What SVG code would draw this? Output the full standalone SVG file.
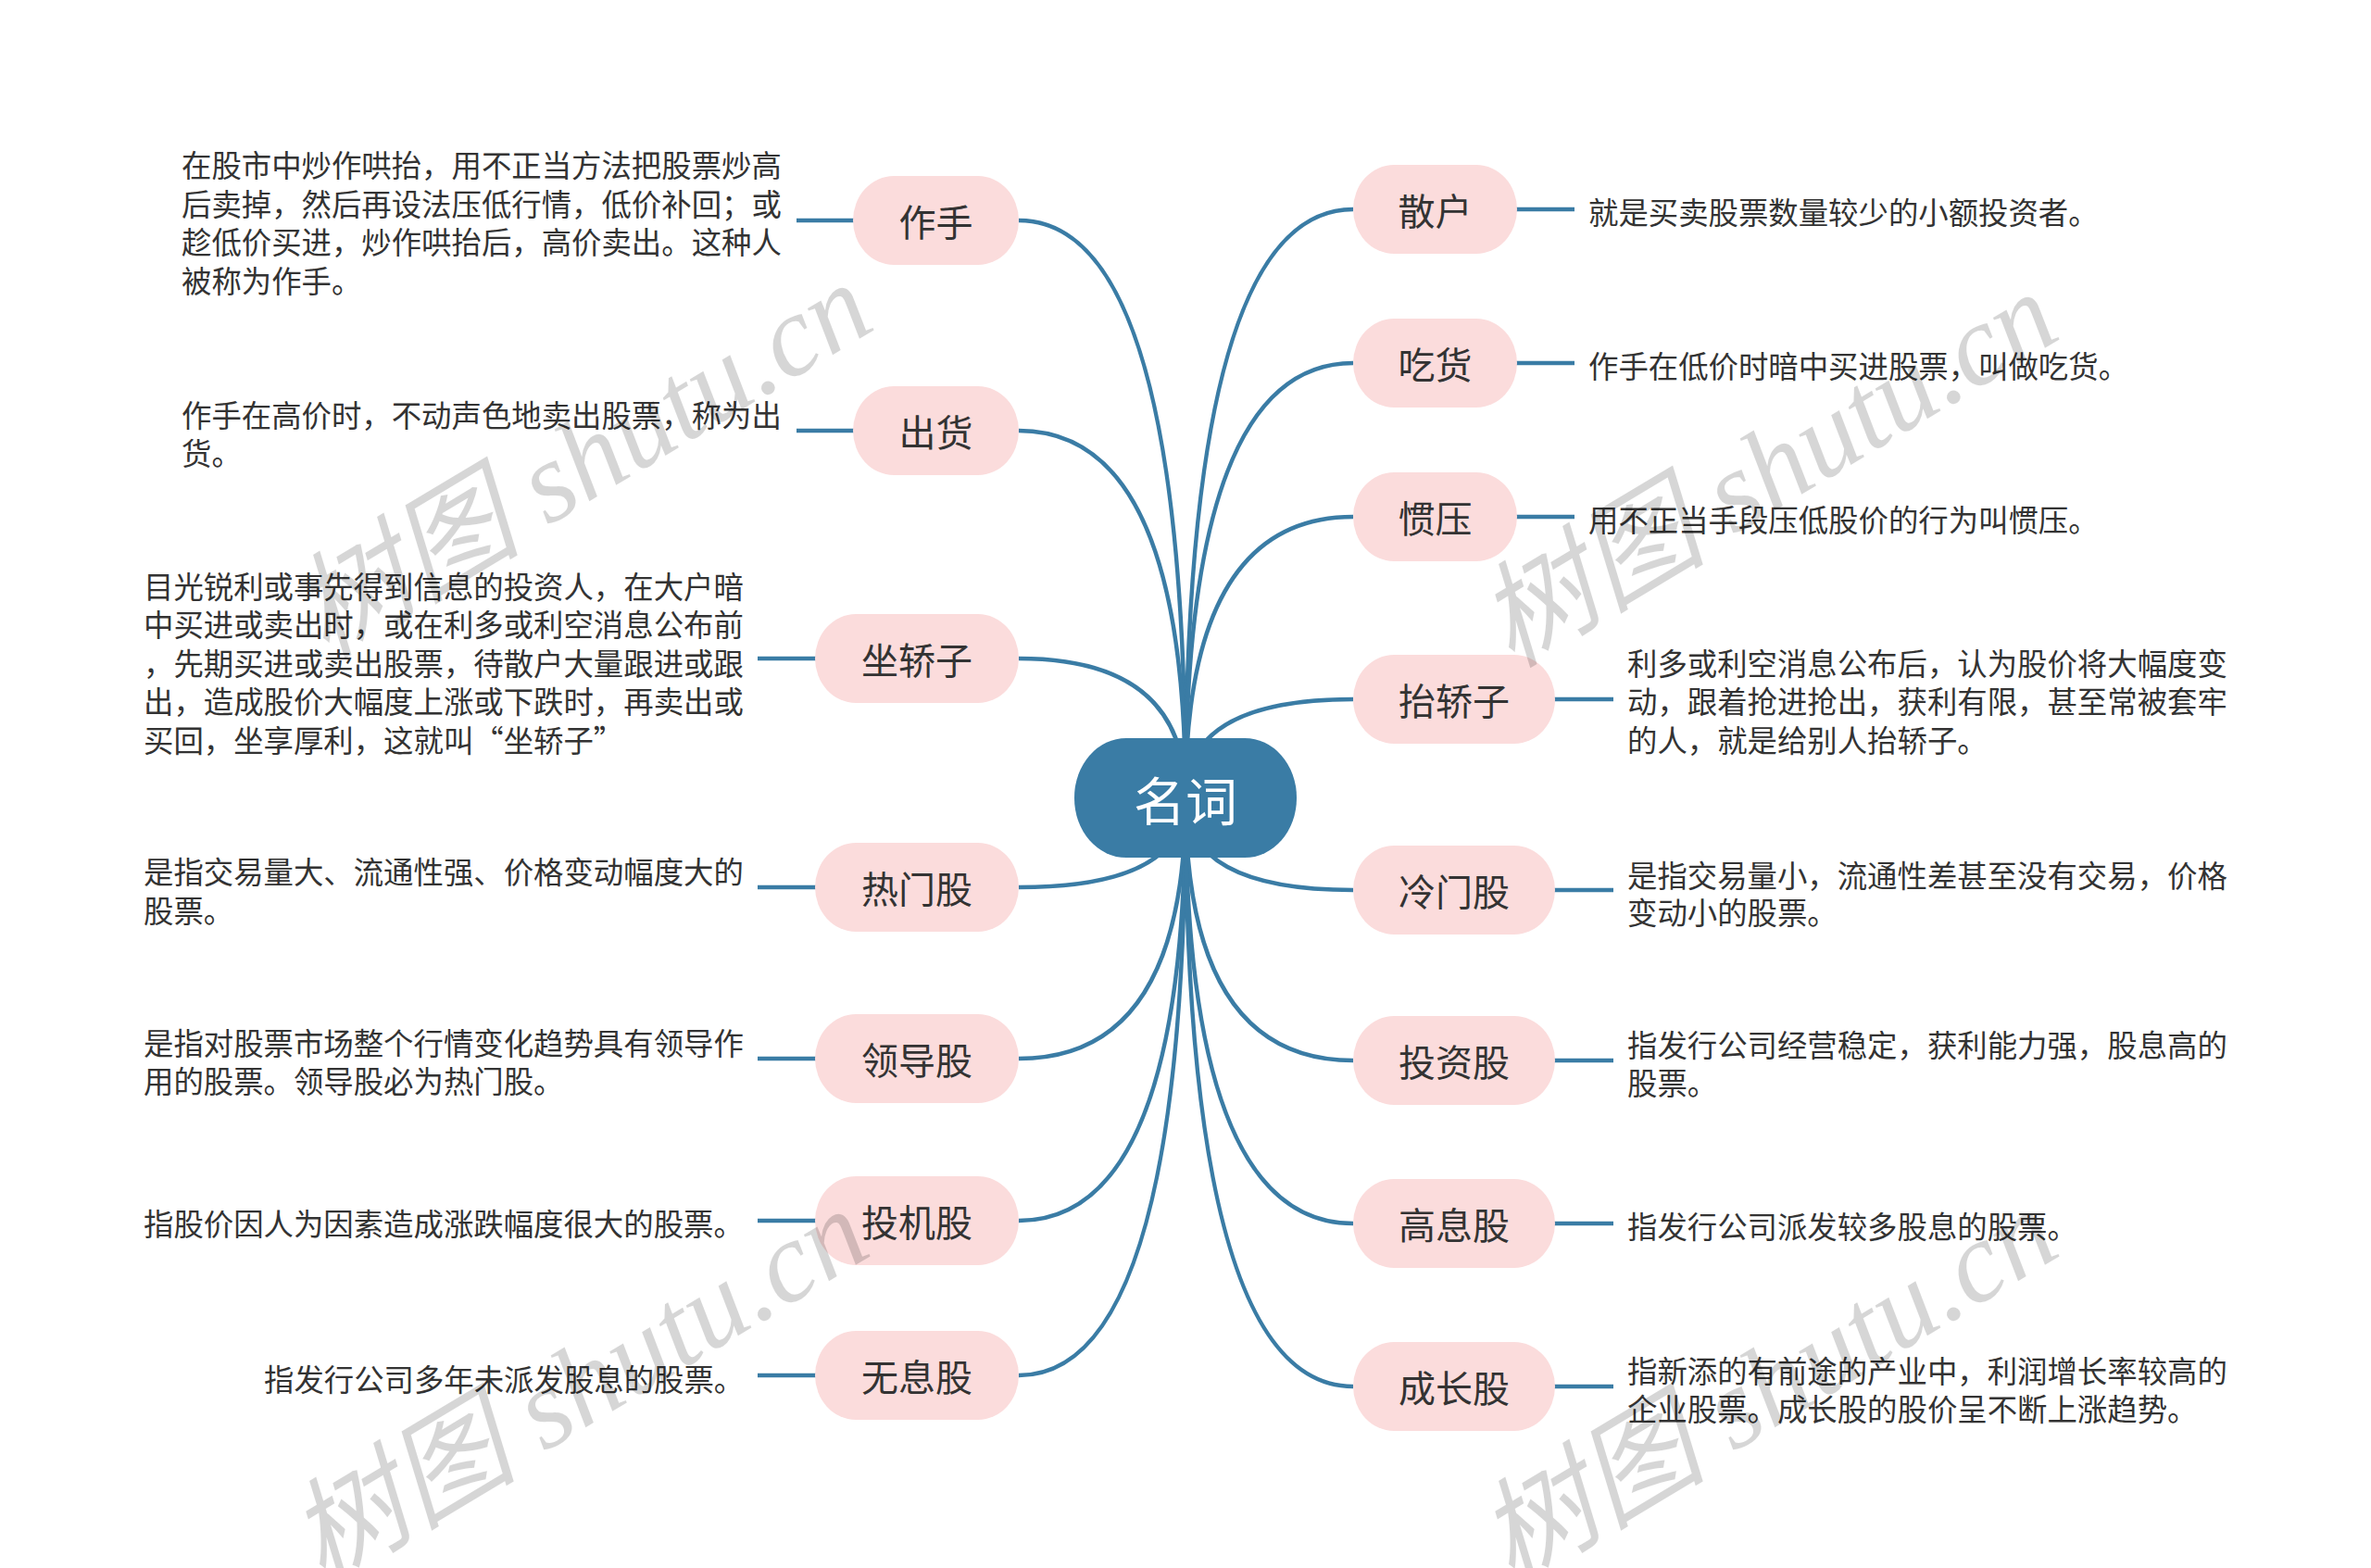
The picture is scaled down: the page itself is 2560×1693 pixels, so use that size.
<svg xmlns="http://www.w3.org/2000/svg" width="2560" height="1693" viewBox="0 0 2560 1693">
<style>
.conn{fill:none;stroke:#3A7CA5;stroke-width:4.5;stroke-linecap:butt}
.node rect{fill:#FBDCDC}
.nt{font-family:"Noto Sans CJK SC","Noto Sans",sans-serif;font-size:40px;fill:#333333;text-anchor:middle;dominant-baseline:central}
.desc{font-family:"Noto Sans CJK SC","Noto Sans",sans-serif;font-size:32.4px;fill:#333333;dominant-baseline:central}
.root rect{fill:#3A7CA5}
.rt{font-family:"Noto Sans CJK SC","Noto Sans",sans-serif;font-size:56px;fill:#ffffff;text-anchor:middle;dominant-baseline:central}
.wm{font-family:"Liberation Serif","Noto Sans CJK SC",serif;font-style:italic;font-size:124px;fill:#000000;fill-opacity:0.16}
</style>
<rect x="0" y="0" width="2560" height="1693" fill="#ffffff"/>
<g id="connectors">
<path class="conn" d="M1280 861 Q1280 238 1100 238"/>
<path class="conn" d="M1280 861 Q1280 465 1100 465"/>
<path class="conn" d="M1280 861 Q1280 711 1100 711"/>
<path class="conn" d="M1280 861 Q1280 958 1100 958"/>
<path class="conn" d="M1280 861 Q1280 1143 1100 1143"/>
<path class="conn" d="M1280 861 Q1280 1318 1100 1318"/>
<path class="conn" d="M1280 861 Q1280 1485 1100 1485"/>
<path class="conn" d="M1280 861 Q1280 226 1461 226"/>
<path class="conn" d="M1280 861 Q1280 392 1461 392"/>
<path class="conn" d="M1280 861 Q1280 558 1461 558"/>
<path class="conn" d="M1280 861 Q1280 755 1461 755"/>
<path class="conn" d="M1280 861 Q1280 961 1461 961"/>
<path class="conn" d="M1280 861 Q1280 1145 1461 1145"/>
<path class="conn" d="M1280 861 Q1280 1321 1461 1321"/>
<path class="conn" d="M1280 861 Q1280 1497 1461 1497"/>
<path class="conn" d="M860 238 H923"/>
<path class="conn" d="M860 465 H923"/>
<path class="conn" d="M818 711 H882"/>
<path class="conn" d="M818 958 H882"/>
<path class="conn" d="M818 1143 H882"/>
<path class="conn" d="M818 1318 H882"/>
<path class="conn" d="M818 1485 H882"/>
<path class="conn" d="M1636 226 H1700"/>
<path class="conn" d="M1636 392 H1700"/>
<path class="conn" d="M1636 558 H1700"/>
<path class="conn" d="M1677 755 H1742"/>
<path class="conn" d="M1677 961 H1742"/>
<path class="conn" d="M1677 1145 H1742"/>
<path class="conn" d="M1677 1321 H1742"/>
<path class="conn" d="M1677 1497 H1742"/>
</g>
<g id="root" class="root">
<rect x="1160" y="797" width="240" height="129" rx="56" ry="64"/>
<text class="rt" x="1280" y="861">名词</text>
</g>
<g id="n-zuoshou" class="node">
<rect x="921" y="190" width="179" height="96" rx="44" ry="48"/>
<text class="nt" x="1010.5" y="238">作手</text>
<text class="desc" x="196" y="176.6">在股市中炒作哄抬，用不正当方法把股票炒高</text>
<text class="desc" x="196" y="218.2">后卖掉，然后再设法压低行情，低价补回；或</text>
<text class="desc" x="196" y="259.8">趁低价买进，炒作哄抬后，高价卖出。这种人</text>
<text class="desc" x="196" y="301.4">被称为作手。</text>
</g>
<g id="n-chuhuo" class="node">
<rect x="921" y="417" width="179" height="96" rx="44" ry="48"/>
<text class="nt" x="1010.5" y="465">出货</text>
<text class="desc" x="196" y="446">作手在高价时，不动声色地卖出股票，称为出</text>
<text class="desc" x="196" y="487">货。</text>
</g>
<g id="n-zuojiaozi" class="node">
<rect x="880" y="663" width="220" height="96" rx="44" ry="48"/>
<text class="nt" x="990" y="711">坐轿子</text>
<text class="desc" x="155" y="631">目光锐利或事先得到信息的投资人，在大户暗</text>
<text class="desc" x="155" y="672.5">中买进或卖出时，或在利多或利空消息公布前</text>
<text class="desc" x="155" y="714">，先期买进或卖出股票，待散户大量跟进或跟</text>
<text class="desc" x="155" y="755.5">出，造成股价大幅度上涨或下跌时，再卖出或</text>
<text class="desc" x="155" y="797">买回，坐享厚利，这就叫“坐轿子”</text>
</g>
<g id="n-remengu" class="node">
<rect x="880" y="910" width="220" height="96" rx="44" ry="48"/>
<text class="nt" x="990" y="958">热门股</text>
<text class="desc" x="155" y="939">是指交易量大、流通性强、价格变动幅度大的</text>
<text class="desc" x="155" y="981">股票。</text>
</g>
<g id="n-lingdaogu" class="node">
<rect x="880" y="1095" width="220" height="96" rx="44" ry="48"/>
<text class="nt" x="990" y="1143">领导股</text>
<text class="desc" x="155" y="1124">是指对股票市场整个行情变化趋势具有领导作</text>
<text class="desc" x="155" y="1165">用的股票。领导股必为热门股。</text>
</g>
<g id="n-toujigu" class="node">
<rect x="880" y="1270" width="220" height="96" rx="44" ry="48"/>
<text class="nt" x="990" y="1318">投机股</text>
<text class="desc" x="155" y="1319">指股价因人为因素造成涨跌幅度很大的股票。</text>
</g>
<g id="n-wuxigu" class="node">
<rect x="880" y="1437" width="220" height="96" rx="44" ry="48"/>
<text class="nt" x="990" y="1485">无息股</text>
<text class="desc" x="285" y="1487">指发行公司多年未派发股息的股票。</text>
</g>
<g id="n-sanhu" class="node">
<rect x="1461" y="178" width="177" height="96" rx="44" ry="48"/>
<text class="nt" x="1549.5" y="226">散户</text>
<text class="desc" x="1715" y="227">就是买卖股票数量较少的小额投资者。</text>
</g>
<g id="n-chihuo" class="node">
<rect x="1461" y="344" width="177" height="96" rx="44" ry="48"/>
<text class="nt" x="1549.5" y="392">吃货</text>
<text class="desc" x="1715" y="393">作手在低价时暗中买进股票，叫做吃货。</text>
</g>
<g id="n-guanya" class="node">
<rect x="1461" y="510" width="177" height="96" rx="44" ry="48"/>
<text class="nt" x="1549.5" y="558">惯压</text>
<text class="desc" x="1715" y="559">用不正当手段压低股价的行为叫惯压。</text>
</g>
<g id="n-taijiaozi" class="node">
<rect x="1461" y="707" width="218" height="96" rx="44" ry="48"/>
<text class="nt" x="1570" y="755">抬轿子</text>
<text class="desc" x="1757" y="714">利多或利空消息公布后，认为股价将大幅度变</text>
<text class="desc" x="1757" y="755.5">动，跟着抢进抢出，获利有限，甚至常被套牢</text>
<text class="desc" x="1757" y="797">的人，就是给别人抬轿子。</text>
</g>
<g id="n-lengmengu" class="node">
<rect x="1461" y="913" width="218" height="96" rx="44" ry="48"/>
<text class="nt" x="1570" y="961">冷门股</text>
<text class="desc" x="1757" y="943">是指交易量小，流通性差甚至没有交易，价格</text>
<text class="desc" x="1757" y="983">变动小的股票。</text>
</g>
<g id="n-touzigu" class="node">
<rect x="1461" y="1097" width="218" height="96" rx="44" ry="48"/>
<text class="nt" x="1570" y="1145">投资股</text>
<text class="desc" x="1757" y="1126">指发行公司经营稳定，获利能力强，股息高的</text>
<text class="desc" x="1757" y="1167">股票。</text>
</g>
<g id="n-gaoxigu" class="node">
<rect x="1461" y="1273" width="218" height="96" rx="44" ry="48"/>
<text class="nt" x="1570" y="1321">高息股</text>
<text class="desc" x="1757" y="1322">指发行公司派发较多股息的股票。</text>
</g>
<g id="n-chengzhanggu" class="node">
<rect x="1461" y="1449" width="218" height="96" rx="44" ry="48"/>
<text class="nt" x="1570" y="1497">成长股</text>
<text class="desc" x="1757" y="1478">指新添的有前途的产业中，利润增长率较高的</text>
<text class="desc" x="1757" y="1519">企业股票。成长股的股价呈不断上涨趋势。</text>
</g>
<g id="watermarks">
<text class="wm" transform="translate(352 712) rotate(-31)">树图 shutu.cn</text>
<text class="wm" transform="translate(1632 722) rotate(-31)">树图 shutu.cn</text>
<text class="wm" transform="translate(348 1712) rotate(-31)">树图 shutu.cn</text>
<text class="wm" transform="translate(1632 1712) rotate(-31)">树图 shutu.cn</text>
</g>
</svg>
